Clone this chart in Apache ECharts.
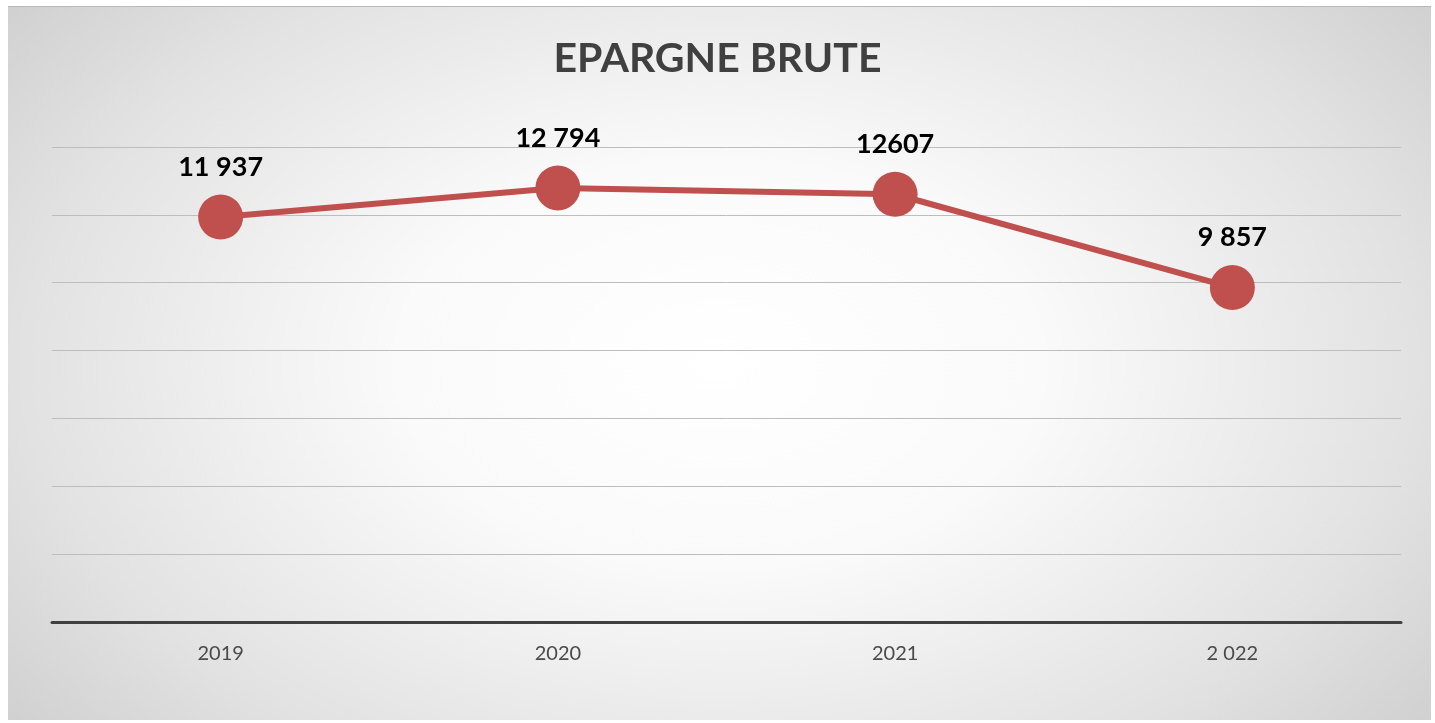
<!DOCTYPE html>
<html>
<head>
<meta charset="utf-8">
<title>Epargne brute</title>
<script src="https://cdn.jsdelivr.net/npm/echarts@6/dist/echarts.min.js"></script>
<style>
  html, body { margin: 0; padding: 0; background: #ffffff; }
  #bg {
    position: absolute; left: 8px; top: 6px; width: 1423px; height: 714px;
    box-sizing: border-box; border-top: 1px solid #b8b8b8;
    background: radial-gradient(ellipse 75% 95% at 50% 50%, #ffffff 0%, #fafafa 30%, #e2e2e2 65%, #c3c3c3 100%);
  }
  #chart { position: absolute; left: 0; top: 0; width: 1435px; height: 723px; }
</style>
</head>
<body>
<div id="bg"></div>
<div id="chart"></div>
<script>
// Epargne brute par annee
var years = ['2019', '2020', '2021', '2 022'];
var values = [11937, 12794, 12607, 9857];
var valueLabels = ['11 937', '12 794', '12607', '9 857'];

var chart = echarts.init(document.getElementById('chart'));

var option = {
  backgroundColor: 'transparent',
  animation: false,
  textStyle: { fontFamily: 'Lato, "Open Sans", sans-serif' },
  title: {
    text: 'EPARGNE BRUTE',
    left: 'center',
    top: 33,
    textStyle: { fontSize: 41, fontWeight: 'bold', color: '#404040', fontFamily: 'Lato, "Open Sans", sans-serif' }
  },
  grid: { left: 52, right: 34, top: 147, bottom: 101 },
  xAxis: {
    type: 'category',
    data: years,
    boundaryGap: true,
    axisLine: { lineStyle: { color: '#404040', width: 3 } },
    axisTick: { show: false },
    axisLabel: { fontSize: 20, color: '#4a4a4a', margin: 22 }
  },
  yAxis: {
    type: 'value',
    min: 0,
    max: 14000,
    interval: 2000,
    axisLine: { show: false },
    axisTick: { show: false },
    axisLabel: { show: false },
    splitLine: { lineStyle: { color: '#bdbdbd', width: 1 } }
  },
  series: [
    {
      name: 'Epargne brute',
      type: 'line',
      data: values,
      symbol: 'circle',
      symbolSize: 45,
      itemStyle: { color: '#c0504d' },
      lineStyle: { color: '#c0504d', width: 6 },
      label: {
        show: true,
        position: 'top',
        distance: 14,
        fontSize: 27,
        fontWeight: 'bold',
        color: '#000000',
        formatter: function (p) { return valueLabels[p.dataIndex]; }
      }
    }
  ]
};

chart.setOption(option);
</script>
</body>
</html>
